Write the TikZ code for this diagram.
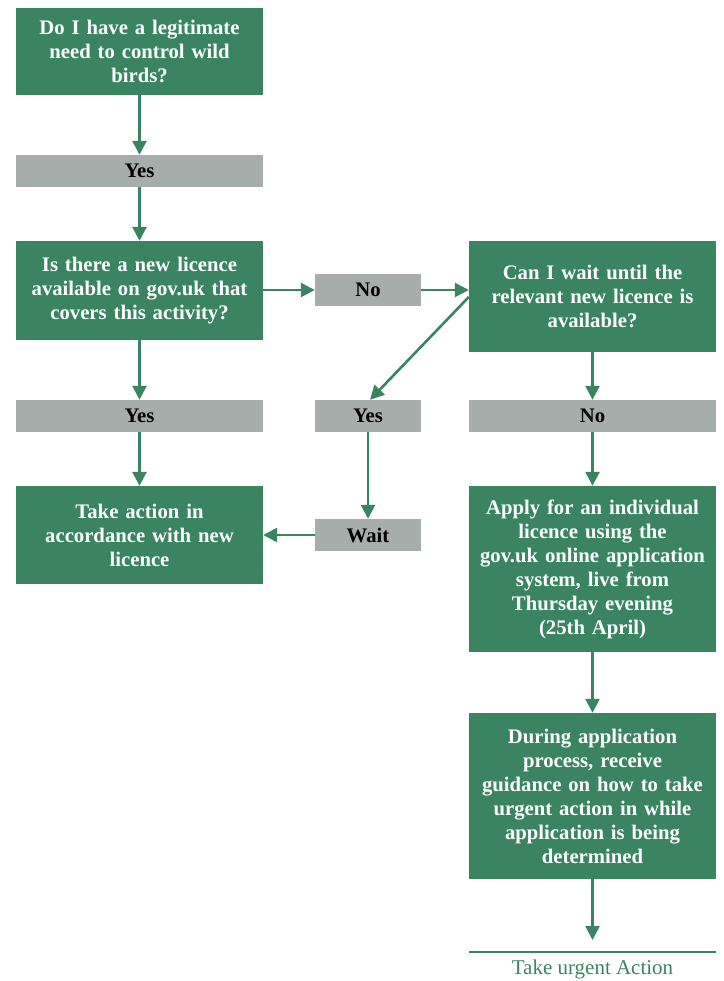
\documentclass[tikz,border=0pt]{standalone}
\usepackage{fontspec}
\setmainfont{Liberation Serif}
\usetikzlibrary{arrows.meta}
\definecolor{boxgreen}{HTML}{3A8461}
\definecolor{boxgray}{HTML}{A7ADAB}
\begin{document}
\begin{tikzpicture}[x=1pt,y=-1pt,
  greenbox/.style={fill=boxgreen,draw=none,inner sep=0pt,text=white,align=center,
    font=\bfseries\fontsize{20.7}{24}\selectfont,text width=245pt},
  graybox/.style={fill=boxgray,draw=none,inner sep=0pt,text=black,align=center,
    font=\bfseries\fontsize{20.7}{24}\selectfont,minimum height=32pt},
  conn/.style={draw=boxgreen,line width=2.6pt,-{Triangle[length=14pt,width=14pt]}}]
\useasboundingbox (0,0) rectangle (723,981);
% green boxes
\node[greenbox,minimum width=247pt,minimum height=87pt] (q1) at (139.5,51.5) {Do I have a legitimate\\need to control wild\\birds?};
\node[greenbox,minimum width=247pt,minimum height=99pt] (q2) at (139.5,290.5) {Is there a new licence\\available on gov.uk that\\covers this activity?};
\node[greenbox,minimum width=247pt,minimum height=111pt] (q3) at (592.5,296.5) {Can I wait until the\\relevant new licence is\\available?};
\node[greenbox,minimum width=247pt,minimum height=98pt] (act) at (139.5,535) {Take action in\\accordance with new\\licence};
\node[greenbox,minimum width=247pt,minimum height=166pt] (apply) at (592.5,569) {Apply for an individual\\licence using the\\gov.uk online application\\system, live from\\Thursday evening\\(25th April)};
\node[greenbox,minimum width=247pt,minimum height=166pt] (during) at (592.5,796) {During application\\process, receive\\guidance on how to take\\urgent action in while\\application is being\\determined};
% gray boxes
\node[graybox,minimum width=247pt] (yes1) at (139.5,171) {Yes};
\node[graybox,minimum width=106pt] (no1) at (368,290) {No};
\node[graybox,minimum width=247pt] (yes2) at (139.5,416) {Yes};
\node[graybox,minimum width=106pt] (yes3) at (368,416) {Yes};
\node[graybox,minimum width=247pt] (no2) at (592.5,416) {No};
\node[graybox,minimum width=106pt] (wait) at (368,535) {Wait};
% final
\coordinate (end) at (592.5,940);
\draw[draw=boxgreen,line width=2pt] (469,952) -- (716,952);
\node[text=boxgreen,font=\fontsize{21}{24}\selectfont,inner sep=0pt] (urgent) at (592.5,969) {Take urgent Action};
% connectors
\draw[conn] (q1.south) -- (yes1.north);
\draw[conn] (yes1.south) -- (q2.north);
\draw[conn] (q2.east |- no1.west) -- (no1.west);
\draw[conn] (no1.east) -- (q3.west |- no1.east);
\draw[conn] ([yshift=-7pt]q3.west |- no1.east) -- ([xshift=2pt]yes3.north);
\draw[conn] (q2.south) -- (yes2.north);
\draw[conn] (yes2.south) -- (act.north);
\draw[conn] (yes3.south) -- (wait.north);
\draw[conn] (wait.west) -- (act.east |- wait.west);
\draw[conn] (q3.south) -- (no2.north);
\draw[conn] (no2.south) -- (apply.north);
\draw[conn] (apply.south) -- (during.north);
\draw[conn] (during.south) -- (end);
\end{tikzpicture}
\end{document}
